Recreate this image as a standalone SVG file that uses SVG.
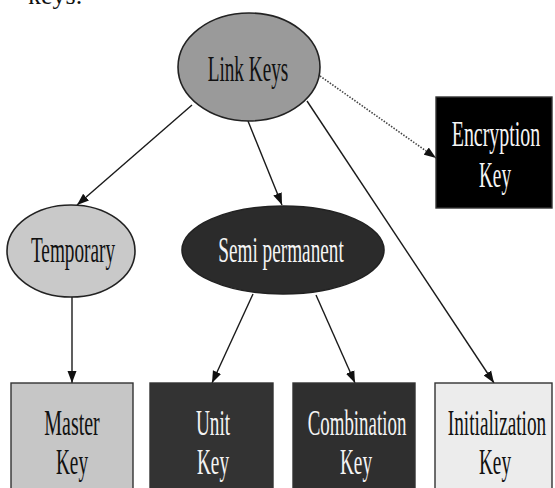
<svg xmlns="http://www.w3.org/2000/svg" width="555" height="488" viewBox="0 0 555 488">
  <style>
    .lbl { font-family: "Liberation Serif", "Times New Roman", serif; font-size: 35px; text-anchor: middle; }
    .dark { fill: #111; }
    .light { fill: #f4f4f4; }
    .edge { fill: none; stroke: #1a1a1a; stroke-width: 1.4; }
    .dotted { fill: none; stroke: #444; stroke-width: 1.6; stroke-dasharray: 1.5 1.5; }
    .oval { stroke: #222; stroke-width: 1.6; }
    .box { stroke: #333; stroke-width: 1.4; }
  </style>
  <defs>
    <marker id="arrow" markerUnits="userSpaceOnUse" markerWidth="13" markerHeight="10" refX="12" refY="5" orient="auto">
      <path d="M0,0.5 L12,5 L0,9.5 Z" fill="#111"/>
    </marker>
  </defs>

  <rect width="555" height="488" fill="#ffffff"/>

  <!-- running text from the page above the figure -->
  <text x="28" y="4" font-family="Liberation Serif, serif" font-size="26" fill="#111">keys.</text>

  <!-- connectors -->
  <g id="connectors">
    <line class="edge" x1="192" y1="105" x2="77" y2="205" marker-end="url(#arrow)"/>
    <line class="edge" x1="248" y1="121" x2="282" y2="205" marker-end="url(#arrow)"/>
    <line class="edge" x1="307" y1="101" x2="494" y2="383" marker-end="url(#arrow)"/>
    <line class="dotted" x1="320" y1="76" x2="436" y2="158" marker-end="url(#arrow)"/>
    <line class="edge" x1="72" y1="297" x2="72" y2="383" marker-end="url(#arrow)"/>
    <line class="edge" x1="253" y1="294" x2="212" y2="383" marker-end="url(#arrow)"/>
    <line class="edge" x1="316" y1="295" x2="355" y2="383" marker-end="url(#arrow)"/>
  </g>

  <!-- labels are set in a narrow serif: scaled horizontally to 55% -->
  <g id="link-keys">
    <ellipse class="oval" cx="249" cy="67" rx="71" ry="54" fill="#9a9a9a"/>
    <text class="lbl dark" transform="translate(248 81) scale(0.55 1)">Link Keys</text>
  </g>

  <g id="temporary">
    <ellipse class="oval" cx="71" cy="251" rx="64" ry="46" fill="#c9c9c9"/>
    <text class="lbl dark" transform="translate(73 262) scale(0.55 1)">Temporary</text>
  </g>

  <g id="semi-permanent">
    <ellipse class="oval" cx="283" cy="250" rx="101" ry="44" fill="#2b2b2b"/>
    <text class="lbl light" transform="translate(281 262) scale(0.55 1)">Semi permanent</text>
  </g>

  <g id="encryption-key">
    <rect class="box" x="436" y="97" width="116" height="111" fill="#000000"/>
    <text class="lbl light" transform="translate(496 146) scale(0.57 1)">Encryption</text>
    <text class="lbl light" transform="translate(495 187) scale(0.55 1)">Key</text>
  </g>

  <g id="master-key">
    <rect class="box" x="11" y="383" width="122" height="120" fill="#c6c6c6"/>
    <text class="lbl dark" transform="translate(72 435) scale(0.57 1)">Master</text>
    <text class="lbl dark" transform="translate(72 474) scale(0.55 1)">Key</text>
  </g>

  <g id="unit-key">
    <rect class="box" x="150" y="383" width="123" height="120" fill="#333333"/>
    <text class="lbl light" transform="translate(213 435) scale(0.55 1)">Unit</text>
    <text class="lbl light" transform="translate(213 474) scale(0.55 1)">Key</text>
  </g>

  <g id="combination-key">
    <rect class="box" x="293" y="383" width="122" height="120" fill="#2f2f2f"/>
    <text class="lbl light" transform="translate(357 435) scale(0.54 1)">Combination</text>
    <text class="lbl light" transform="translate(356 474) scale(0.55 1)">Key</text>
  </g>

  <g id="initialization-key">
    <rect class="box" x="435" y="383" width="117" height="120" fill="#ececec"/>
    <text class="lbl dark" transform="translate(497 435) scale(0.55 1)">Initialization</text>
    <text class="lbl dark" transform="translate(495 474) scale(0.55 1)">Key</text>
  </g>
</svg>
